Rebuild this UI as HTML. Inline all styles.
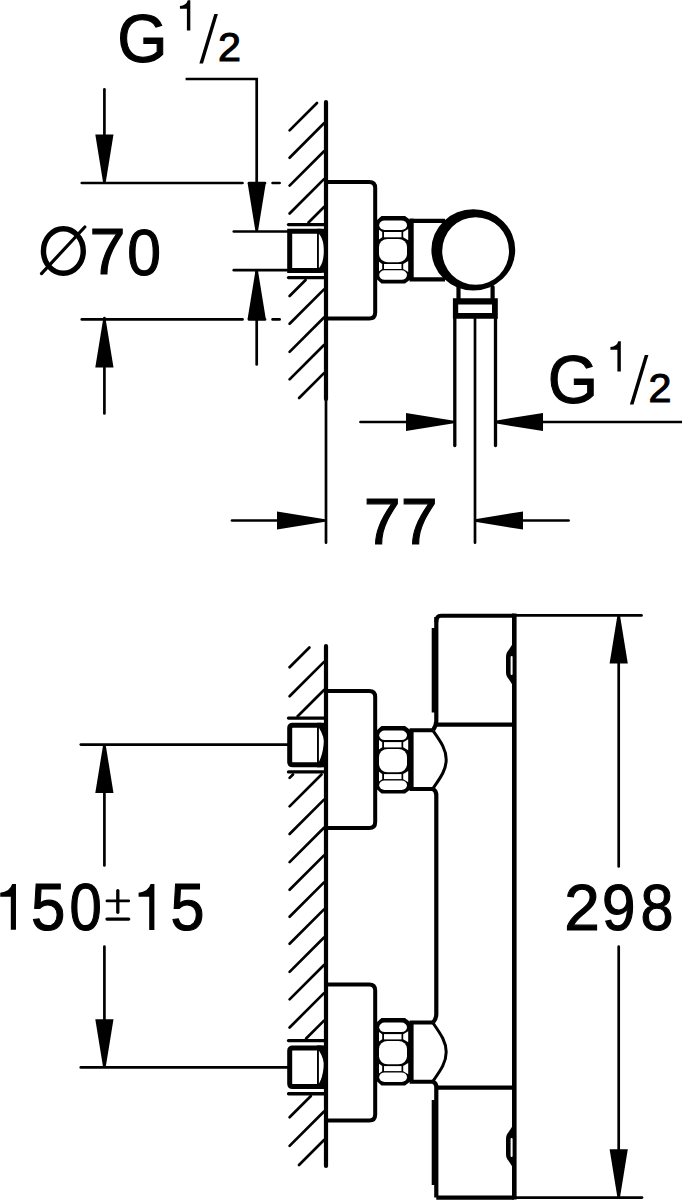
<!DOCTYPE html>
<html><head><meta charset="utf-8"><style>
html,body{margin:0;padding:0;background:#fff;width:682px;height:1200px;overflow:hidden}
svg{display:block}
text{fill:#000;stroke:#000;font-family:"Liberation Sans",sans-serif}
</style></head><body>
<svg width="682" height="1200" viewBox="0 0 682 1200" stroke="#000" fill="none"><text transform="matrix(0.6464,0,0,0.6893,117.20,61.78)" font-size="100" stroke-width="1.647">G</text>
<path d="M190.32,0.20 V30.40 H186.90 V8.63 H179.92 V5.94 Q186.30,5.33 187.81,0.20 Z" fill="#000" stroke="none"/>
<polygon points="199.40,63.60 203.00,63.60 217.90,13.90 214.30,13.90" fill="#000" stroke="none"/>
<text transform="matrix(0.4127,0,0,0.3981,217.97,61.25)" font-size="100" stroke-width="2.713">2</text>
<path d="M185.6,79 H256.7 V184" stroke-width="2.7" fill="none" />
<polygon points="255.40,231.00 258.00,231.00 265.80,183.00 247.60,183.00" fill="#000" stroke="none"/>
<line x1="256.70" y1="271.00" x2="256.70" y2="364.40" stroke-width="2.7" stroke-linecap="round"/>
<polygon points="255.40,271.00 258.00,271.00 265.80,319.00 247.60,319.00" fill="#000" stroke="none"/>
<line x1="81.80" y1="183.00" x2="242.50" y2="183.00" stroke-width="2.7" stroke-linecap="round"/>
<line x1="249.00" y1="183.00" x2="265.00" y2="183.00" stroke-width="2.7" stroke-linecap="round"/>
<line x1="272.60" y1="183.00" x2="279.60" y2="183.00" stroke-width="2.7" stroke-linecap="round"/>
<line x1="81.80" y1="319.40" x2="242.50" y2="319.40" stroke-width="2.7" stroke-linecap="round"/>
<line x1="249.00" y1="319.40" x2="265.00" y2="319.40" stroke-width="2.7" stroke-linecap="round"/>
<line x1="272.60" y1="319.40" x2="279.60" y2="319.40" stroke-width="2.7" stroke-linecap="round"/>
<line x1="104.40" y1="89.30" x2="104.40" y2="136.00" stroke-width="2.7" stroke-linecap="round"/>
<polygon points="103.10,182.50 105.70,182.50 113.50,134.50 95.30,134.50" fill="#000" stroke="none"/>
<line x1="104.40" y1="318.00" x2="104.40" y2="413.40" stroke-width="2.7" stroke-linecap="round"/>
<polygon points="103.10,319.50 105.70,319.50 113.50,367.50 95.30,367.50" fill="#000" stroke="none"/>
<ellipse cx="63.35" cy="251" rx="19.9" ry="22.3" fill="none" stroke-width="5.4"/>
<line x1="41.50" y1="273.60" x2="84.80" y2="227.00" stroke-width="3.2" stroke-linecap="round"/>
<text transform="matrix(0.6467,0,0,0.6541,89.53,273.95)" font-size="100" stroke-width="1.691">7</text>
<text transform="matrix(0.6067,0,0,0.6554,127.18,274.51)" font-size="100" stroke-width="1.743">0</text>
<line x1="233.80" y1="231.50" x2="290.00" y2="231.50" stroke-width="2.7" stroke-linecap="round"/>
<line x1="233.80" y1="270.20" x2="290.00" y2="270.20" stroke-width="2.7" stroke-linecap="round"/>
<line x1="326.00" y1="102.00" x2="326.00" y2="399.00" stroke-width="4.2" stroke-linecap="round"/>
<line x1="326.00" y1="399.00" x2="326.00" y2="542.70" stroke-width="2.7" stroke-linecap="round"/>
<line x1="288.50" y1="224.60" x2="324.00" y2="224.60" stroke-width="3.3" stroke-linecap="round"/>
<line x1="288.50" y1="277.60" x2="324.00" y2="277.60" stroke-width="3.3" stroke-linecap="round"/>
<path d="M321.5,231.3 H289.7 V270.4 H321.5" stroke-width="5.0" fill="none" />
<rect x="317" y="228.8" width="8" height="44" fill="#000" stroke="none"/>
<path d="M318.9,233.8 C322.6,238 323.8,244 323.8,251 C323.8,258 322.6,264 318.9,268.2 Z" fill="#fff" stroke="none"/>
<path d="M326,182.1 H369.2 Q375.2,182.1 375.2,188.1 V312.6 Q375.2,318.6 369.2,318.6 H326" stroke-width="4.0" fill="none" />
<polygon points="376.50,220.50 381.50,216.00 405.00,216.00 411.00,220.50 411.00,279.00 405.00,283.50 381.50,283.50 376.50,279.00" fill="#000" stroke="none"/>
<g fill="#fff" stroke="none"><rect x="379.2" y="220.4" width="27.8" height="9.6" rx="5.5" ry="4.8"/><rect x="379.0" y="238.9" width="28.0" height="23.3" rx="8.5" ry="8"/><rect x="379.2" y="270.3" width="27.8" height="9.5" rx="5.5" ry="4.75"/><rect x="384.0" y="232.0" width="17.5" height="5.30"/><polygon points="379.0,229.85 382.2,232.05 382.2,237.25 379.0,239.45000000000002"/><polygon points="403.2,232.05 408.2,229.05 408.2,240.25 403.2,237.25"/><rect x="384.0" y="264.0" width="17.5" height="5.00"/><polygon points="379.0,261.7 382.2,263.9 382.2,269.1 379.0,271.3"/><polygon points="403.2,263.9 408.2,260.9 408.2,272.1 403.2,269.1"/></g>
<path d="M411.6,220.8 H445 M411.6,279.3 H445 M411.6,218.6 V281.5" stroke-width="4.2" fill="none" />
<path fill-rule="evenodd" fill="#000" stroke="none" d="M431.4,249.9 a41.9,40.6 0 1,0 83.8,0 a41.9,40.6 0 1,0 -83.8,0 Z M442.2,251 a33.4,33.8 0 1,0 66.8,0 a33.4,33.8 0 1,0 -66.8,0 Z"/>
<line x1="458.50" y1="287.00" x2="458.50" y2="302.00" stroke-width="4.2" stroke-linecap="round"/>
<line x1="492.60" y1="287.00" x2="492.60" y2="302.00" stroke-width="4.2" stroke-linecap="round"/>
<path fill-rule="evenodd" fill="#000" stroke="none" d="M452.9,298.2 H497.8 V318.7 H452.9 Z M458.2,304.6 V313 H492 V304.6 Z"/>
<line x1="454.80" y1="318.00" x2="454.80" y2="445.50" stroke-width="3.3" stroke-linecap="round"/>
<line x1="495.50" y1="318.00" x2="495.50" y2="445.50" stroke-width="3.3" stroke-linecap="round"/>
<line x1="475.00" y1="318.00" x2="475.00" y2="542.70" stroke-width="2.7" stroke-linecap="round"/>
<line x1="360.50" y1="422.00" x2="408.00" y2="422.00" stroke-width="2.7" stroke-linecap="round"/>
<polygon points="454.00,420.70 454.00,423.30 406.00,431.10 406.00,412.90" fill="#000" stroke="none"/>
<line x1="541.00" y1="422.00" x2="682.00" y2="422.00" stroke-width="2.7" stroke-linecap="round"/>
<polygon points="495.00,420.70 495.00,423.30 543.00,431.10 543.00,412.90" fill="#000" stroke="none"/>
<text transform="matrix(0.6464,0,0,0.6893,547.70,402.78)" font-size="100" stroke-width="1.647">G</text>
<path d="M620.82,341.20 V371.40 H617.40 V349.63 H610.42 V346.94 Q616.80,346.33 618.31,341.20 Z" fill="#000" stroke="none"/>
<polygon points="629.90,404.60 633.50,404.60 648.40,354.90 644.80,354.90" fill="#000" stroke="none"/>
<text transform="matrix(0.4127,0,0,0.3981,648.47,402.25)" font-size="100" stroke-width="2.713">2</text>
<line x1="232.00" y1="520.50" x2="280.00" y2="520.50" stroke-width="2.7" stroke-linecap="round"/>
<polygon points="325.00,519.20 325.00,521.80 277.00,529.60 277.00,511.40" fill="#000" stroke="none"/>
<line x1="520.00" y1="520.50" x2="568.60" y2="520.50" stroke-width="2.7" stroke-linecap="round"/>
<polygon points="475.00,519.20 475.00,521.80 523.00,529.60 523.00,511.40" fill="#000" stroke="none"/>
<text transform="matrix(0.6643,0,0,0.6555,363.74,543.85)" font-size="100" stroke-width="1.667">7</text>
<text transform="matrix(0.6643,0,0,0.6555,400.64,543.85)" font-size="100" stroke-width="1.667">7</text>
<line x1="326.00" y1="646.00" x2="326.00" y2="1166.00" stroke-width="4.2" stroke-linecap="round"/>
<line x1="288.50" y1="718.10" x2="324.00" y2="718.10" stroke-width="3.3" stroke-linecap="round"/>
<line x1="288.50" y1="771.90" x2="324.00" y2="771.90" stroke-width="3.3" stroke-linecap="round"/>
<line x1="288.50" y1="1040.60" x2="324.00" y2="1040.60" stroke-width="3.3" stroke-linecap="round"/>
<line x1="288.50" y1="1093.75" x2="324.00" y2="1093.75" stroke-width="3.3" stroke-linecap="round"/>
<path d="M321.5,725.3 H292.7 Q289.7,725.3 289.7,728.3 V761.8 Q289.7,764.8 292.7,764.8 H321.5" stroke-width="5.0" fill="none" />
<rect x="317" y="722.8" width="8" height="44.5" fill="#000" stroke="none"/>
<path d="M318.9,727.8 Q324.8,736.8 323.6,744.8 Q322.6,754.8 318.9,762.0 Z" fill="#fff" stroke="none"/>
<path d="M321.5,1047.9 H292.7 Q289.7,1047.9 289.7,1050.9 V1083.5 Q289.7,1086.5 292.7,1086.5 H321.5" stroke-width="5.0" fill="none" />
<rect x="317" y="1045.4" width="8" height="43.59999999999991" fill="#000" stroke="none"/>
<path d="M318.9,1050.4 Q324.8,1059.4 323.6,1067.4 Q322.6,1077.4 318.9,1083.7 Z" fill="#fff" stroke="none"/>
<line x1="80.80" y1="744.60" x2="290.00" y2="744.60" stroke-width="2.7" stroke-linecap="round"/>
<line x1="80.80" y1="1067.40" x2="290.00" y2="1067.40" stroke-width="2.7" stroke-linecap="round"/>
<line x1="104.40" y1="790.00" x2="104.40" y2="865.50" stroke-width="2.7" stroke-linecap="round"/>
<line x1="104.40" y1="946.50" x2="104.40" y2="1022.00" stroke-width="2.7" stroke-linecap="round"/>
<polygon points="103.10,745.00 105.70,745.00 113.50,793.00 95.30,793.00" fill="#000" stroke="none"/>
<polygon points="103.10,1067.20 105.70,1067.20 113.50,1019.20 95.30,1019.20" fill="#000" stroke="none"/>
<path d="M15.98,884.00 V929.70 H10.80 V896.75 H0.24 V892.68 Q9.89,891.77 12.17,884.00 Z" fill="#000" stroke="none"/>
<text transform="matrix(0.6180,0,0,0.6607,31.08,929.80)" font-size="100" stroke-width="1.721">5</text>
<text transform="matrix(0.5795,0,0,0.6596,69.59,930.01)" font-size="100" stroke-width="1.776">0</text>
<line x1="107.00" y1="900.90" x2="128.70" y2="900.90" stroke-width="2.9" stroke-linecap="round"/>
<line x1="117.80" y1="890.60" x2="117.80" y2="912.30" stroke-width="3.3" stroke-linecap="round"/>
<line x1="107.00" y1="919.10" x2="128.70" y2="919.10" stroke-width="3.3" stroke-linecap="round"/>
<path d="M154.40,884.00 V929.90 H149.20 V896.81 H138.60 V892.72 Q148.28,891.80 150.58,884.00 Z" fill="#000" stroke="none"/>
<text transform="matrix(0.6117,0,0,0.6578,170.50,929.81)" font-size="100" stroke-width="1.733">5</text>
<path d="M326,691.1 H369.2 Q375.2,691.1 375.2,697.1 V821.9 Q375.2,827.9 369.2,827.9 H326" stroke-width="4.0" fill="none" />
<path d="M326,984.4 H369.2 Q375.2,984.4 375.2,990.4 V1114.6 Q375.2,1120.6 369.2,1120.6 H326" stroke-width="4.0" fill="none" />
<polygon points="376.50,730.60 381.50,726.10 405.00,726.10 411.00,730.60 411.00,789.10 405.00,793.60 381.50,793.60 376.50,789.10" fill="#000" stroke="none"/>
<g fill="#fff" stroke="none"><rect x="379.2" y="730.5" width="27.8" height="9.6" rx="5.5" ry="4.8"/><rect x="379.0" y="749.0" width="28.0" height="23.3" rx="8.5" ry="8"/><rect x="379.2" y="780.4000000000001" width="27.8" height="9.5" rx="5.5" ry="4.75"/><rect x="384.0" y="742.1" width="17.5" height="5.30"/><polygon points="379.0,739.95 382.2,742.15 382.2,747.35 379.0,749.55"/><polygon points="403.2,742.15 408.2,739.15 408.2,750.35 403.2,747.35"/><rect x="384.0" y="774.1" width="17.5" height="5.00"/><polygon points="379.0,771.8000000000001 382.2,774.0 382.2,779.2 379.0,781.4"/><polygon points="403.2,774.0 408.2,771.0 408.2,782.2 403.2,779.2"/></g>
<polygon points="376.50,1022.60 381.50,1018.10 405.00,1018.10 411.00,1022.60 411.00,1081.10 405.00,1085.60 381.50,1085.60 376.50,1081.10" fill="#000" stroke="none"/>
<g fill="#fff" stroke="none"><rect x="379.2" y="1022.5" width="27.8" height="9.6" rx="5.5" ry="4.8"/><rect x="379.0" y="1041.0" width="28.0" height="23.3" rx="8.5" ry="8"/><rect x="379.2" y="1072.4" width="27.8" height="9.5" rx="5.5" ry="4.75"/><rect x="384.0" y="1034.1" width="17.5" height="5.30"/><polygon points="379.0,1031.95 382.2,1034.15 382.2,1039.35 379.0,1041.55"/><polygon points="403.2,1034.15 408.2,1031.15 408.2,1042.35 403.2,1039.35"/><rect x="384.0" y="1066.1" width="17.5" height="5.00"/><polygon points="379.0,1063.8 382.2,1066.0 382.2,1071.1999999999998 379.0,1073.3999999999999"/><polygon points="403.2,1066.0 408.2,1063.0 408.2,1074.1999999999998 403.2,1071.1999999999998"/></g>
<path d="M411.6,728.2 V790.9 M409.8,730.2 H433 M409.8,788.9 H433" stroke-width="4.0" fill="none" />
<path d="M433,730.7 C441,742.2 446.2,749.2774999999999 446.2,759.55 C446.2,769.8225 441,776.9 433,788.4" stroke-width="3.0" fill="none" />
<path d="M411.6,1020.5 V1083.7 M409.8,1022.5 H433 M409.8,1081.7 H433" stroke-width="4.0" fill="none" />
<path d="M433,1023.0 C441,1034.5 446.2,1041.74 446.2,1052.1 C446.2,1062.4599999999998 441,1069.7 433,1081.2" stroke-width="3.0" fill="none" />
<path d="M436.3,617 V721 Q436.3,725 433,730.2" stroke-width="4.2" fill="none" />
<path d="M433,788.9 Q436.3,791 436.3,795 V1014 Q436.3,1019 433,1022.5" stroke-width="4.2" fill="none" />
<path d="M433,1081.7 Q436.3,1083 436.3,1087 V1197.6" stroke-width="4.2" fill="none" />
<path d="M436.3,724.6 H514 M436.3,1087.6 H514" stroke-width="4.2" fill="none" />
<path d="M436.3,622 Q436.3,615.7 441,615.7 H514" stroke-width="4.0" fill="none" />
<rect x="431.7" y="628" width="4.6" height="84.5" fill="#000" stroke="none"/>
<rect x="431.7" y="1100" width="4.6" height="85" fill="#000" stroke="none"/>
<path d="M514.3,613.5 V1199.6" stroke-width="4.6" fill="none" />
<path d="M514.5,641.1 L507.2,652.1 Q506,654.1 506,656.6 V672.4 Q506,674.9 507.2,676.9 L514.5,687.9 Z" fill="#000" stroke="none"/>
<rect x="510.6" y="656.1" width="2" height="19" rx="1" fill="#fff" stroke="none"/>
<path d="M514.5,1123.1 L507.2,1134.1 Q506,1136.1 506,1138.6 V1154.3999999999999 Q506,1156.8999999999999 507.2,1158.8999999999999 L514.5,1169.8999999999999 Z" fill="#000" stroke="none"/>
<rect x="510.6" y="1138.1" width="2" height="19" rx="1" fill="#fff" stroke="none"/>
<path d="M436.3,1197.6 H514" stroke-width="4.2" fill="none" />
<line x1="514.00" y1="615.40" x2="641.50" y2="615.40" stroke-width="2.7" stroke-linecap="round"/>
<line x1="514.00" y1="1197.60" x2="642.00" y2="1197.60" stroke-width="2.7" stroke-linecap="round"/>
<line x1="618.70" y1="660.00" x2="618.70" y2="866.40" stroke-width="2.7" stroke-linecap="round"/>
<line x1="618.70" y1="946.70" x2="618.70" y2="1152.00" stroke-width="2.7" stroke-linecap="round"/>
<polygon points="617.40,615.40 620.00,615.40 627.80,663.40 609.60,663.40" fill="#000" stroke="none"/>
<polygon points="617.40,1197.20 620.00,1197.20 627.80,1149.20 609.60,1149.20" fill="#000" stroke="none"/>
<text transform="matrix(0.6388,0,0,0.6502,564.34,929.95)" font-size="100" stroke-width="1.707">2</text>
<text transform="matrix(0.6018,0,0,0.6483,602.03,929.82)" font-size="100" stroke-width="1.760">9</text>
<text transform="matrix(0.5924,0,0,0.6483,640.48,929.82)" font-size="100" stroke-width="1.773">8</text>
<g stroke-linecap="round"><line x1="289.60" y1="130.40" x2="317.00" y2="103.00" stroke-width="2.7"/><line x1="289.60" y1="157.70" x2="324.00" y2="123.30" stroke-width="2.7"/><line x1="289.60" y1="185.60" x2="324.00" y2="151.20" stroke-width="2.7"/><line x1="289.60" y1="213.50" x2="324.00" y2="179.10" stroke-width="2.7"/><line x1="308.50" y1="222.50" x2="324.00" y2="207.00" stroke-width="2.7"/><line x1="289.60" y1="296.00" x2="305.60" y2="280.00" stroke-width="2.7"/><line x1="289.60" y1="323.80" x2="324.00" y2="289.40" stroke-width="2.7"/><line x1="289.60" y1="351.90" x2="324.00" y2="317.50" stroke-width="2.7"/><line x1="289.60" y1="379.40" x2="324.00" y2="345.00" stroke-width="2.7"/><line x1="299.10" y1="398.00" x2="324.00" y2="373.10" stroke-width="2.7"/></g>
<g stroke-linecap="round"><line x1="289.60" y1="667.30" x2="309.40" y2="647.50" stroke-width="2.7"/><line x1="289.60" y1="696.30" x2="324.00" y2="661.90" stroke-width="2.7"/><line x1="297.70" y1="716.30" x2="324.00" y2="690.00" stroke-width="2.7"/><line x1="289.60" y1="777.90" x2="293.00" y2="774.50" stroke-width="2.7"/><line x1="289.60" y1="806.40" x2="321.50" y2="774.50" stroke-width="2.7"/><line x1="289.60" y1="834.00" x2="324.00" y2="799.60" stroke-width="2.7"/><line x1="289.60" y1="862.10" x2="324.00" y2="827.70" stroke-width="2.7"/><line x1="289.60" y1="889.80" x2="324.00" y2="855.40" stroke-width="2.7"/><line x1="289.60" y1="916.80" x2="324.00" y2="882.40" stroke-width="2.7"/><line x1="289.60" y1="943.80" x2="324.00" y2="909.40" stroke-width="2.7"/><line x1="289.60" y1="971.90" x2="324.00" y2="937.50" stroke-width="2.7"/><line x1="289.60" y1="999.40" x2="324.00" y2="965.00" stroke-width="2.7"/><line x1="289.60" y1="1027.50" x2="324.00" y2="993.10" stroke-width="2.7"/><line x1="306.10" y1="1038.50" x2="324.00" y2="1020.60" stroke-width="2.7"/><line x1="289.60" y1="1117.30" x2="310.90" y2="1096.00" stroke-width="2.7"/><line x1="289.60" y1="1145.90" x2="324.00" y2="1111.50" stroke-width="2.7"/><line x1="299.00" y1="1165.00" x2="324.00" y2="1140.00" stroke-width="2.7"/></g></svg>
</body></html>
